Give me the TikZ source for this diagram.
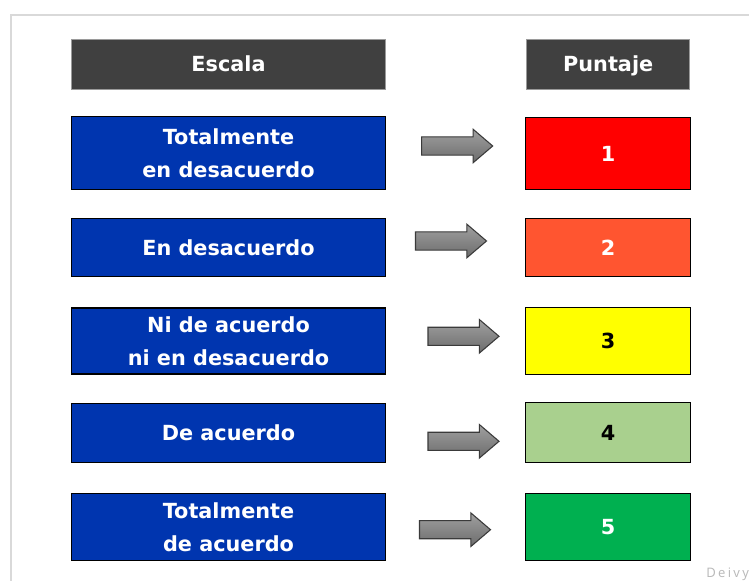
\documentclass[tikz,border=0pt]{standalone}
\usepackage{fontspec}
\setmainfont{DejaVu Sans}
\newfontfamily\wmfont[LetterSpace=18]{Open Sans}
\usetikzlibrary{shapes.arrows}
\definecolor{hdrfill}{HTML}{404040}
\definecolor{hdrline}{HTML}{9A9A9A}
\definecolor{bluefill}{HTML}{0035AF}
\definecolor{redfill}{HTML}{FF0000}
\definecolor{orangefill}{HTML}{FF5530}
\definecolor{yellowfill}{HTML}{FFFF00}
\definecolor{lgreenfill}{HTML}{A9D08E}
\definecolor{greenfill}{HTML}{00B050}
\definecolor{framec}{HTML}{D9D9D9}
\definecolor{arrtop}{HTML}{A0A0A0}
\definecolor{arrbot}{HTML}{6C6C6C}
\definecolor{arrline}{HTML}{3A3A3A}
\definecolor{wmark}{HTML}{B8B8B8}
\tikzset{
  txt/.style={font=\bfseries\fontsize{15.6}{25}\selectfont, align=center, inner sep=0pt},
  hdrbox/.style={txt, rectangle, fill=hdrfill, draw=hdrline, line width=0.8pt, text=white,
    minimum height=37.5pt, text height=12.5pt, text depth=1pt},
  lbox/.style={txt, rectangle, fill=bluefill, draw=black, line width=0.8pt, text=white, minimum width=235.5pt},
  rbox/.style={txt, rectangle, draw=black, line width=0.8pt, minimum width=123.4pt},
  garrow/.style={single arrow, anchor=tail, draw=arrline, line width=0.8pt, top color=arrtop, bottom color=arrbot,
    minimum height=53.25pt, inner xsep=0pt, inner ysep=6.4pt, single arrow head extend=5.8pt,
    single arrow tip angle=81, outer sep=0pt}
}
\begin{document}
\begin{tikzpicture}[x=0.75pt,y=-0.75pt]
\useasboundingbox (0,0) rectangle (749,581);
\fill[white] (0,0) rectangle (749,581);
\draw[framec, line width=1.1pt] (11,600) -- (11,15) -- (760,15);

% headers
\node[hdrbox, minimum width=235.5pt] (hEsc) at (228.5,64.3) {Escala};
\node[hdrbox, minimum width=121.9pt] (hPun) at (608.2,64.3) {Puntaje};

% left boxes
\node[lbox, minimum height=54.4pt] (l1) at (228.5,153) {Totalmente\\en desacuerdo};
\node[lbox, minimum height=43.9pt] (l2) at (228.5,247.3) {En desacuerdo};
\node[lbox, minimum height=49.5pt] (l3) at (228.5,341) {Ni de acuerdo\\ni en desacuerdo};
\node[lbox, minimum height=44.25pt] (l4) at (228.5,433) {De acuerdo};
\node[lbox, minimum height=50.25pt] (l5) at (228.5,527) {Totalmente\\de acuerdo};

% right boxes
\node[rbox, fill=redfill, text=white, minimum height=54.4pt] (r1) at (608.2,153.5) {1};
\node[rbox, fill=orangefill, text=white, minimum height=43.9pt] (r2) at (608.2,247.5) {2};
\node[rbox, fill=yellowfill, text=black, minimum height=50.25pt] (r3) at (608.2,340.8) {3};
\node[rbox, fill=lgreenfill, text=black, minimum height=45pt] (r4) at (608.2,432.7) {4};
\node[rbox, fill=greenfill, text=white, minimum height=50.25pt] (r5) at (608.2,527) {5};

% arrows
\node[garrow] (a1) at (421.7,146) {};
\node[garrow] (a2) at (415.5,241) {};
\node[garrow] (a3) at (428,336.3) {};
\node[garrow] (a4) at (428,441.3) {};
\node[garrow] (a5) at (419.5,529.7) {};

% watermark
\node[anchor=base west, inner sep=0pt, font=\wmfont\fontsize{9.8}{12}\selectfont, text=wmark] (wm) at (706,577) {Deivy};
\end{tikzpicture}
\end{document}
